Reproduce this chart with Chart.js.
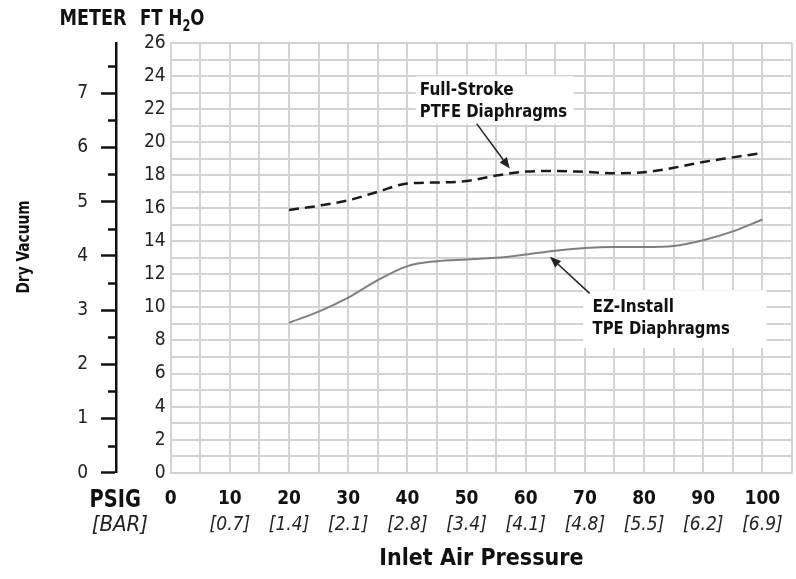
<!DOCTYPE html>
<html><head><meta charset="utf-8">
<script src="https://cdn.jsdelivr.net/npm/chart.js@4"></script>
<style>html,body{margin:0;padding:0;background:#fff}</style>
</head><body>
<canvas id="c" width="796" height="579"></canvas>
<script>
// ---- data ----
const psig = [20,25,30,35,40,45,50,55,60,65,70,75,80,85,90,95,100];
const ptfeFt = [15.9,16.15,16.48,17.0,17.5,17.56,17.65,17.98,18.22,18.26,18.2,18.12,18.18,18.45,18.8,19.08,19.35];
const tpeFt  = [9.07,9.75,10.6,11.65,12.5,12.8,12.9,13.0,13.2,13.43,13.6,13.66,13.66,13.72,14.07,14.6,15.32];
const psigTickLabels = ['0','10','20','30','40','50','60','70','80','90','100'];
const barTickLabels  = ['','[0.7]','[1.4]','[2.1]','[2.8]','[3.4]','[4.1]','[4.8]','[5.5]','[6.2]','[6.9]'];
const ftTickLabels   = ['0','2','4','6','8','10','12','14','16','18','20','22','24','26'];
const meterTickLabels = ['0','1','2','3','4','5','6','7'];
const FT_PER_M = 3.28084;

const FONT = "'Liberation Sans Narrow','Arial Narrow','DejaVu Sans Condensed','Roboto Condensed',sans-serif";
const GRID = '#d3d3d3';

// draw text with horizontal condensing
function txt(ctx, s, x, y, font, align, sx) {
  ctx.save();
  ctx.font = font;
  ctx.textAlign = align;
  ctx.translate(x, y);
  ctx.scale(sx, 1);
  ctx.fillText(s, 0, 0);
  const w = ctx.measureText(s).width * sx;
  ctx.restore();
  return w;
}

const decor = {
  id: 'decor',
  beforeDatasetsDraw(chart) {
    const {ctx, scales: {x, y}} = chart;
    ctx.save();
    ctx.fillStyle = '#fff';
    const boxes = [[41.4, 23.98, 68.1, 21.08], [69.7, 11.04, 100.7, 7.54]];
    boxes.forEach(b => {
      const x0 = x.getPixelForValue(b[0]), y0 = y.getPixelForValue(b[1]);
      const x1 = x.getPixelForValue(b[2]), y1 = y.getPixelForValue(b[3]);
      ctx.fillRect(x0, y0, x1 - x0, y1 - y0);
    });
    ctx.restore();
  },
  afterDraw(chart) {
    const {ctx, scales: {x, y, m}} = chart;
    ctx.save();
    // meter minor ticks
    ctx.strokeStyle = '#111'; ctx.lineWidth = 2.5;
    m.ticks.forEach(t => {
      if (Math.abs(t.value % 1 - 0.5) < 1e-6) {
        const py = Math.round(m.getPixelForValue(t.value)) + 0.5;
        ctx.beginPath(); ctx.moveTo(m.right - 8, py); ctx.lineTo(m.right, py); ctx.stroke();
      }
    });
    ctx.fillStyle = '#111';
    ctx.textBaseline = 'alphabetic';
    // headers
    txt(ctx, 'METER', 93, 25, 'bold 22px ' + FONT, 'center', 0.89);
    let hx = 140;
    hx += txt(ctx, 'FT H', hx, 25, 'bold 22px ' + FONT, 'left', 0.84);
    hx += txt(ctx, '2', hx, 31, 'bold 15px ' + FONT, 'left', 0.84);
    txt(ctx, 'O', hx, 25, 'bold 22px ' + FONT, 'left', 0.84);
    // Dry Vacuum
    ctx.save();
    ctx.translate(29, 247);
    ctx.rotate(-Math.PI / 2);
    txt(ctx, 'Dry Vacuum', 0, 0, 'bold 17px ' + FONT, 'center', 0.9);
    ctx.restore();
    // PSIG / [BAR]
    txt(ctx, 'PSIG', 141, 507, 'bold 24px ' + FONT, 'right', 0.9);
    ctx.fillStyle = '#222';
    txt(ctx, '[BAR]', 148, 531, 'italic 22px ' + FONT, 'right', 1);
    // annotations
    ctx.fillStyle = '#111';
    const f = 'bold 17px ' + FONT;
    const t1x = x.getPixelForValue(42.1), t1y = y.getPixelForValue(22.84);
    txt(ctx, 'Full-Stroke', t1x, t1y, f, 'left', 1);
    txt(ctx, 'PTFE Diaphragms', t1x, t1y + 22, f, 'left', 0.97);
    const t2x = x.getPixelForValue(71.3), t2y = y.getPixelForValue(9.73);
    txt(ctx, 'EZ-Install', t2x, t2y, f, 'left', 1);
    txt(ctx, 'TPE Diaphragms', t2x, t2y + 22, f, 'left', 0.97);
    const arrow = (a, b, c, d) => {
      const x0 = x.getPixelForValue(a), y0 = y.getPixelForValue(b);
      const x1 = x.getPixelForValue(c), y1 = y.getPixelForValue(d);
      const ang = Math.atan2(y1 - y0, x1 - x0);
      const L = 11, W = 4.5;
      const bx = x1 - L * Math.cos(ang), by = y1 - L * Math.sin(ang);
      ctx.strokeStyle = '#222'; ctx.lineWidth = 1.5;
      ctx.beginPath(); ctx.moveTo(x0, y0); ctx.lineTo(bx, by); ctx.stroke();
      ctx.fillStyle = '#222';
      ctx.beginPath();
      ctx.moveTo(x1, y1);
      ctx.lineTo(bx + W * Math.sin(ang), by - W * Math.cos(ang));
      ctx.lineTo(bx - W * Math.sin(ang), by + W * Math.cos(ang));
      ctx.closePath(); ctx.fill();
    };
    arrow(51.7, 21.12, 57.3, 18.4);
    arrow(70.8, 10.85, 64.1, 13.06);
    ctx.restore();
  }
};

const noSidePad = s => { s.paddingLeft = 0; s.paddingRight = 0; };

new Chart(document.getElementById('c'), {
  type: 'line',
  data: {
    datasets: [
      {
        label: 'Full-Stroke PTFE Diaphragms',
        data: psig.map((p, i) => ({x: p, y: ptfeFt[i]})),
        borderColor: '#1a1a1a', borderWidth: 2.5, borderDash: [10, 6],
        pointRadius: 0, fill: false, cubicInterpolationMode: 'monotone',
        xAxisID: 'x', yAxisID: 'y'
      },
      {
        label: 'EZ-Install TPE Diaphragms',
        data: psig.map((p, i) => ({x: p, y: tpeFt[i]})),
        borderColor: '#7f7f7f', borderWidth: 2,
        pointRadius: 0, fill: false, cubicInterpolationMode: 'monotone',
        xAxisID: 'x', yAxisID: 'y'
      }
    ]
  },
  options: {
    responsive: false,
    animation: false,
    devicePixelRatio: 1,
    layout: {padding: {top: 43, right: 4, left: 0, bottom: 0}},
    plugins: {legend: {display: false}, tooltip: {enabled: false}},
    scales: {
      x: {
        type: 'linear', position: 'bottom', weight: 0, min: 0, max: 105,
        ticks: {
          stepSize: 5, autoSkip: false, maxRotation: 0, padding: 15,
          color: '#111', font: {family: FONT, size: 19, weight: 'bold'},
          callback: v => (v % 10 === 0 && v <= 100) ? psigTickLabels[v / 10] : ''
        },
        grid: {color: GRID, lineWidth: 2, drawTicks: false},
        border: {color: GRID, width: 2},
        afterFit: s => { s.height = 36.3; noSidePad(s); }
      },
      x2: {
        type: 'linear', position: 'bottom', weight: 1, min: 0, max: 105,
        ticks: {
          stepSize: 5, autoSkip: false, maxRotation: 0, padding: 5,
          color: '#222', font: {family: FONT, size: 19, style: 'italic'},
          callback: v => (v % 10 === 0 && v <= 100) ? barTickLabels[v / 10] : ''
        },
        grid: {display: false, drawTicks: false},
        border: {display: false},
        title: {display: true, text: 'Inlet Air Pressure', color: '#111',
          font: {family: FONT, size: 23, weight: 'bold'}, padding: {top: 0, bottom: 6}},
        afterFit: s => { s.height = 70; noSidePad(s); }
      },
      y: {
        type: 'linear', position: 'left', weight: 0, min: 0, max: 26,
        ticks: {
          stepSize: 1, autoSkip: false, padding: 5,
          color: '#222', font: {family: FONT, size: 19},
          callback: v => (v % 2 === 0) ? ftTickLabels[v / 2] : ''
        },
        grid: {color: GRID, lineWidth: 2, drawTicks: false},
        border: {color: GRID, width: 2},
        afterFit: s => { s.width = 54.7; }
      },
      m: {
        type: 'linear', position: 'left', weight: 1, min: 0, max: 26 / FT_PER_M,
        ticks: {
          stepSize: 0.5, autoSkip: false, padding: 13,
          color: '#222', font: {family: FONT, size: 19},
          callback: v => Number.isInteger(v) ? meterTickLabels[v] : ''
        },
        grid: {
          display: true, drawOnChartArea: false, drawTicks: true, tickLength: 15, tickWidth: 2.5,
          tickColor: c => (c.tick && Number.isInteger(c.tick.value)) ? '#111' : 'rgba(0,0,0,0)'
        },
        border: {display: true, color: '#111', width: 2.5},
        afterFit: s => { s.width = 116; }
      }
    }
  },
  plugins: [decor]
});
</script>
</body></html>
